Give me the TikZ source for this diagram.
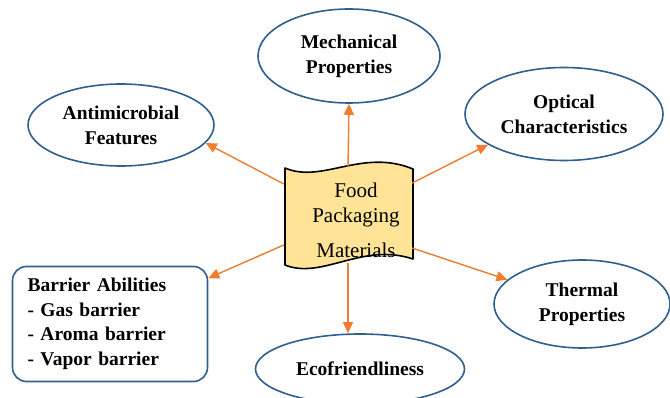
\documentclass[tikz,border=0pt]{standalone}
\usepackage{fontspec}
\setmainfont{Liberation Serif}
\usetikzlibrary{shapes.geometric,arrows.meta}
\definecolor{ovalblue}{HTML}{2F5F8F}
\definecolor{arroworange}{HTML}{ED7D31}
\definecolor{paperyellow}{HTML}{FFE497}

\begin{document}
\begin{tikzpicture}[x=1pt,y=-1pt,
    prop/.style={ellipse,draw=ovalblue,line width=1.6pt,fill=white,inner sep=0pt,
      align=center,font=\fontsize{19.5}{25}\selectfont\bfseries},
    link/.style={draw=arroworange,line width=1.4pt,-{Triangle[length=11pt,width=10pt]}}]
    \useasboundingbox (0,0) rectangle (670,398);
    % wavy sheet in the middle
    \draw[fill=paperyellow,line width=1.6pt,line join=round] (285,168)
    .. controls (322,184) and (362,148) .. (413,169)
    -- (413,259)
    .. controls (362,242) and (322,280) .. (285,265)
    -- cycle;
    \node[minimum width=128pt,minimum height=96pt,inner sep=0pt] (food) at (348,215) {};
    \node (foodtxt) at (356,190) {\fontsize{21}{25}\selectfont Food};
    \node (packtxt) at (356,217) {\fontsize{21}{25}\selectfont Packaging};
    \node (mattxt) at (356,250) {\fontsize{21}{25}\selectfont Materials};
    % properties around it
    \node[prop,minimum width=182pt,minimum height=94pt] (mech) at (349,56) {Mechanical\\Properties};
    \node[prop,minimum width=186pt,minimum height=82pt] (anti) at (121,125) {Antimicrobial\\Features};
    \node[prop,minimum width=198pt,minimum height=93pt] (opt) at (564,114) {Optical\\Characteristics};
    \node[prop,minimum width=176pt,minimum height=88pt] (therm) at (582,304) {Thermal\\Properties};
    \node[prop,minimum width=209pt,minimum height=70pt] (eco) at (360,369) {Ecofriendliness};
    \node[draw=ovalblue,line width=1.6pt,rounded corners=14pt,text width=165pt,inner xsep=15pt,
      minimum height=115pt,align=left,font=\fontsize{19.5}{24.5}\selectfont\bfseries]
      (bar) at (110,324) {Barrier Abilities\\- Gas barrier\\- Aroma barrier\\- Vapor barrier};
    % arrows
    \draw[link] (food.north) -- (mech.south);
    \draw[link] (food.south) -- ([xshift=-12pt]eco.north);
    \draw[link] ([yshift=31pt]food.west) -- (anti.-12);
    \draw[link] ([yshift=32pt]food.east) -- (opt.202);
    \draw[link] ([yshift=-30pt]food.west) -- (bar.25);
    \draw[link] ([yshift=-33pt]food.east) -- (therm.162);
\end{tikzpicture}
\end{document}
